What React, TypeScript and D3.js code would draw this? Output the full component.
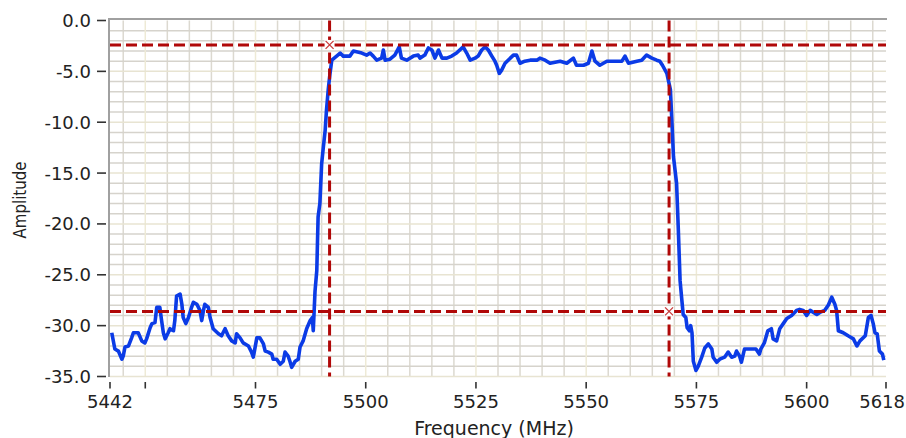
import React, { useEffect, useRef } from 'react';
import * as d3 from 'd3';

// [frequency MHz, amplitude]
const lowerStopband: [number, number][] = [
  [5442.4, -30.7], [5443.1, -32.3], [5443.9, -32.5], [5444.7, -33.3], [5445.0, -33.0], [5445.4, -32.1],
  [5446.2, -32.0], [5446.9, -31.2], [5447.3, -30.7], [5448.4, -30.7], [5449.2, -31.5], [5449.9, -31.7],
  [5450.3, -31.3], [5451.1, -30.2], [5451.5, -29.8], [5452.2, -29.7], [5452.6, -28.2], [5453.3, -28.2],
  [5453.7, -29.5], [5454.1, -30.7], [5454.5, -31.3], [5455.2, -30.7], [5455.6, -30.3], [5456.4, -30.5],
  [5456.7, -29.5], [5457.1, -27.1], [5457.9, -26.9], [5458.3, -27.9], [5458.6, -29.2], [5459.2, -29.8],
  [5459.8, -29.2], [5460.5, -28.2], [5460.9, -27.7], [5461.7, -27.9], [5462.4, -28.5], [5462.8, -29.5],
  [5463.2, -28.5], [5463.5, -27.9], [5464.3, -28.2], [5464.7, -29.2], [5465.4, -30.3], [5466.6, -30.8],
  [5467.3, -31.0], [5468.1, -30.3], [5468.8, -31.0], [5469.6, -31.5], [5470.4, -31.7], [5470.7, -30.8],
  [5471.5, -31.2], [5472.2, -31.7], [5473.4, -32.0], [5474.1, -32.6], [5474.5, -33.1], [5475.3, -31.2],
  [5476.0, -31.2], [5476.8, -31.8], [5477.2, -32.5], [5477.9, -32.6], [5478.7, -32.8], [5479.0, -33.3],
  [5479.8, -33.3], [5480.6, -33.8], [5481.3, -33.5], [5481.7, -32.6], [5482.4, -33.0], [5482.8, -33.5],
  [5483.2, -34.1], [5484.0, -33.5], [5484.7, -33.3], [5485.1, -32.1], [5485.8, -31.5], [5486.6, -30.3],
  [5487.4, -29.5], [5487.9, -29.2], [5488.1, -30.5], [5488.5, -26.6],
];

const passband: [number, number][] = [
  [5488.9, -24.6], [5489.2, -19.3], [5489.6, -18.0], [5490.0, -14.1], [5490.4, -12.4], [5490.8, -10.8],
  [5491.1, -8.8], [5491.5, -6.8], [5491.9, -5.2], [5492.3, -3.9],
  [5493.4, -3.5], [5494.2, -3.2], [5494.9, -3.5], [5496.4, -3.5], [5497.2, -3.0], [5499.1, -3.2],
  [5500.2, -3.4], [5501.0, -3.2], [5501.7, -3.5], [5502.5, -3.9], [5503.6, -3.7], [5504.0, -2.9],
  [5504.4, -3.9], [5505.5, -3.8], [5506.6, -3.4], [5507.6, -2.6], [5508.1, -3.7], [5509.3, -3.9],
  [5510.8, -3.5], [5511.9, -3.4], [5512.3, -3.7], [5513.4, -3.4], [5514.2, -2.7], [5515.0, -2.9],
  [5515.7, -3.7], [5516.5, -2.9], [5517.3, -3.7], [5518.4, -3.7], [5519.5, -3.5], [5520.6, -3.2],
  [5522.1, -2.6], [5522.9, -3.2], [5523.7, -3.9], [5524.8, -3.7], [5525.5, -3.5], [5526.3, -2.9],
  [5527.1, -2.6], [5527.8, -2.9], [5528.6, -3.5], [5529.3, -4.0], [5529.7, -4.4], [5530.3, -5.2],
  [5530.8, -4.9], [5531.6, -4.2], [5532.3, -3.9], [5533.5, -3.4], [5534.2, -3.4], [5535.0, -4.2],
  [5536.1, -4.0], [5537.3, -3.9], [5538.8, -3.9], [5539.5, -3.7], [5540.7, -3.9], [5541.8, -4.2],
  [5544.1, -4.0], [5545.6, -4.2], [5547.1, -3.7], [5547.8, -4.4], [5549.4, -4.4], [5550.5, -4.2],
  [5551.3, -3.0], [5552.0, -4.0], [5553.1, -4.4], [5554.7, -4.0], [5556.9, -4.0], [5558.1, -4.0],
  [5558.8, -3.5], [5559.6, -4.2], [5561.5, -4.0], [5562.6, -3.9], [5563.7, -3.4], [5564.9, -3.7],
  [5566.0, -3.9], [5566.7, -4.0], [5567.3, -4.4],
];

const upperStopband: [number, number][] = [
  [5568.3, -5.2], [5569.1, -6.8], [5569.4, -9.5], [5569.8, -13.4], [5570.5, -16.0], [5570.9, -20.6],
  [5571.3, -25.6], [5571.7, -27.5], [5572.0, -28.9],
  [5572.6, -29.2], [5572.9, -30.2], [5573.4, -30.5], [5573.7, -30.0], [5574.0, -30.7], [5574.3, -33.5],
  [5574.9, -34.4], [5575.4, -34.0], [5576.2, -33.1], [5576.9, -32.2], [5577.7, -31.8], [5578.5, -32.3],
  [5578.8, -33.1], [5579.6, -33.6], [5580.3, -33.3], [5581.4, -33.1], [5582.2, -32.6], [5583.0, -33.1],
  [5583.7, -33.0], [5584.1, -32.5], [5584.8, -33.0], [5585.2, -33.6], [5585.9, -32.3], [5587.0, -32.3],
  [5588.5, -32.3], [5589.3, -32.8], [5589.6, -32.3], [5590.4, -31.7], [5591.2, -30.5], [5592.0, -30.3],
  [5592.4, -31.3], [5593.2, -31.5], [5593.9, -30.3], [5594.7, -29.8], [5595.5, -29.3], [5596.6, -29.0],
  [5597.7, -28.5], [5598.4, -28.4], [5599.2, -28.5], [5600.0, -29.0], [5600.8, -28.5], [5602.3, -28.9],
  [5603.0, -28.7], [5604.1, -28.5], [5604.9, -28.0], [5605.7, -27.2], [5606.4, -27.9], [5606.8, -28.5],
  [5607.2, -30.5], [5608.3, -30.7], [5609.4, -31.0], [5610.6, -31.3], [5611.4, -32.0], [5612.1, -31.5],
  [5613.3, -31.0], [5614.0, -29.2], [5614.6, -29.0], [5615.1, -29.8], [5615.5, -30.7], [5616.0, -30.8],
  [5616.5, -32.5], [5617.2, -32.8], [5617.5, -33.4],
];

// cursor positions
const cursorFreqs = [5491.8, 5568.8];
const cursorAmps = [-2.4, -28.6];

const xTicks = [5442, 5450, 5475, 5500, 5525, 5550, 5575, 5600, 5618];
const xTickLabels = ['5442', '', '5475', '5500', '5525', '5550', '5575', '5600', '5618'];
const yTicks = [0, -5, -10, -15, -20, -25, -30, -35];

const App: React.FC = () => {
  const svgRef = useRef<SVGSVGElement>(null);

  useEffect(() => {
    if (!svgRef.current) return;
    const svg = d3.select(svgRef.current);
    svg.selectAll('*').remove();

    const font = "'DejaVu Sans', Verdana, sans-serif";
    const x = d3.scaleLinear().domain([5442, 5618]).range([110, 886]);
    const y = d3.scaleLinear().domain([0, -35]).range([20.5, 376.5]);
    const [x0, x1] = x.range();
    const [y0, y1] = y.range();

    // grid
    const grid = svg.append('g');
    const minorV = d3.range(5445, 5618, 5).filter(v => (v - 5450) % 25 !== 0);
    const majorV = d3.range(5450, 5618, 25);
    const minorH = d3.range(-1, -35, -1).filter(v => v % 5 !== 0);
    const majorH = d3.range(-5, -36, -5);

    grid.selectAll('.vminor').data(minorV).join('line')
      .attr('x1', d => x(d)).attr('x2', d => x(d)).attr('y1', y0).attr('y2', y1)
      .attr('stroke', '#dcd9d0').attr('stroke-width', 1.5);
    grid.selectAll('.hminor').data(minorH).join('line')
      .attr('x1', x0).attr('x2', x1).attr('y1', d => y(d)).attr('y2', d => y(d))
      .attr('stroke', '#d6d3cc').attr('stroke-width', 1.5);
    grid.selectAll('.vmajor').data(majorV).join('line')
      .attr('x1', d => x(d)).attr('x2', d => x(d)).attr('y1', y0).attr('y2', y1)
      .attr('stroke', '#eeead6').attr('stroke-width', 1.5);
    grid.selectAll('.hmajor').data(majorH).join('line')
      .attr('x1', x0).attr('x2', x1).attr('y1', d => y(d)).attr('y2', d => y(d))
      .attr('stroke', '#e8e4d2').attr('stroke-width', 1.5);

    // frame (top and left only)
    svg.append('line').attr('x1', x0 - 1).attr('x2', x1 + 1).attr('y1', y0 - 1.5).attr('y2', y0 - 1.5)
      .attr('stroke', '#a0a0a0').attr('stroke-width', 2);
    svg.append('line').attr('x1', x0 - 1).attr('x2', x0 - 1).attr('y1', y0 - 2.5).attr('y2', y1 + 0.5)
      .attr('stroke', '#a0a0a0').attr('stroke-width', 2);

    // trace
    const trace = [...lowerStopband, ...passband, ...upperStopband];
    const line = d3.line<[number, number]>().x(d => x(d[0])).y(d => y(d[1]));
    svg.append('path').datum(trace)
      .attr('d', line)
      .attr('fill', 'none')
      .attr('stroke', '#0b3be6')
      .attr('stroke-width', 3.6)
      .attr('stroke-linejoin', 'round');

    // cursors
    const cursors = svg.append('g');
    cursorFreqs.forEach(f => {
      cursors.append('line').attr('x1', x(f)).attr('x2', x(f)).attr('y1', y0).attr('y2', y1)
        .attr('stroke', '#b00808').attr('stroke-width', 3).attr('stroke-dasharray', '11,5');
    });
    cursorAmps.forEach(a => {
      cursors.append('line').attr('x1', x0).attr('x2', x1).attr('y1', y(a)).attr('y2', y(a))
        .attr('stroke', '#b00808').attr('stroke-width', 3).attr('stroke-dasharray', '11,5');
    });
    cursorFreqs.forEach((f, i) => {
      const g = cursors.append('g').attr('transform', `translate(${x(f)},${y(cursorAmps[i])})`);
      g.append('rect').attr('x', -5).attr('y', -5).attr('width', 10).attr('height', 10).attr('fill', '#fff');
      g.append('path').attr('d', 'M-4,-4L4,4M4,-4L-4,4')
        .attr('stroke', '#c83a3a').attr('stroke-width', 1.3).attr('fill', 'none');
    });

    // y axis
    const yAxis = svg.append('g');
    yAxis.selectAll('line').data(yTicks).join('line')
      .attr('x1', 97).attr('x2', 106).attr('y1', d => y(d)).attr('y2', d => y(d))
      .attr('stroke', '#333').attr('stroke-width', 1.6);
    yAxis.selectAll('text').data(yTicks).join('text')
      .attr('x', 91).attr('y', d => y(d)).attr('dy', '0.36em')
      .attr('text-anchor', 'end')
      .style('font-family', font).style('font-size', '18px').style('fill', '#222')
      .text(d => d.toFixed(1));

    // x axis
    const xAxis = svg.append('g');
    xAxis.selectAll('line').data(xTicks).join('line')
      .attr('x1', d => x(d)).attr('x2', d => x(d)).attr('y1', 382).attr('y2', 388.5)
      .attr('stroke', '#333').attr('stroke-width', 1.6);
    const last = xTicks.length - 1;
    xAxis.selectAll('text').data(xTicks).join('text')
      .attr('x', (d, i) => (i === last ? 905 : x(d))).attr('y', 402).attr('dy', '0.36em')
      .attr('text-anchor', (d, i) => (i === last ? 'end' : 'middle'))
      .style('font-family', font).style('font-size', '18px').style('fill', '#222')
      .text((d, i) => xTickLabels[i]);

    // axis titles
    svg.append('text')
      .attr('x', 494).attr('y', 428).attr('dy', '0.36em')
      .attr('text-anchor', 'middle')
      .style('font-family', font).style('font-size', '19px').style('fill', '#222')
      .text('Frequency (MHz)');

    svg.append('text')
      .attr('transform', 'translate(20,200) rotate(-90) scale(1,1.2)')
      .attr('dy', '0.36em')
      .attr('text-anchor', 'middle')
      .style('font-family', font).style('font-size', '15px').style('fill', '#222')
      .text('Amplitude');
  }, []);

  return (
    <svg
      ref={svgRef}
      width={906}
      height={438}
      style={{ position: 'absolute', left: 0, top: 0, background: '#fff' }}
    />
  );
};

export default App;
